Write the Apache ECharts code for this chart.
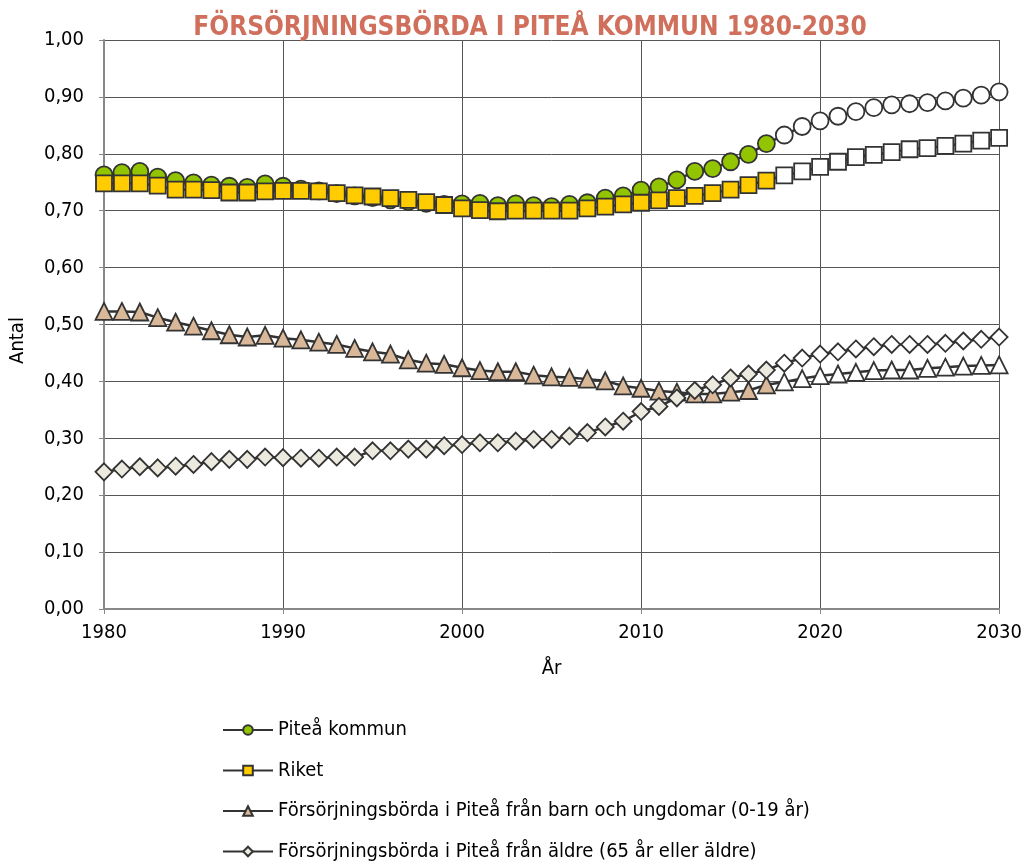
<!DOCTYPE html>
<html>
<head>
<meta charset="utf-8">
<script src="https://cdn.jsdelivr.net/npm/echarts@6/dist/echarts.min.js"></script>
<style>
  html, body { margin: 0; padding: 0; background: #fff; }
  #chart { width: 1025px; height: 861px; }
</style>
</head>
<body>
<div id="chart"></div>
<script>
// years 1980-2030, from 2018 on the values are a projection (white markers)
const years = [];
for (let y = 1980; y <= 2030; y++) years.push(y);
const firstProjectionYear = 2018;

const pitea = [
  0.763, 0.767, 0.769, 0.759, 0.753, 0.749, 0.745, 0.743, 0.741, 0.747,
  0.743, 0.738, 0.735, 0.730, 0.726, 0.723, 0.719, 0.716, 0.713, 0.711,
  0.712, 0.713, 0.709, 0.712, 0.709, 0.707, 0.711, 0.714, 0.722, 0.726,
  0.736, 0.742, 0.754, 0.769, 0.774, 0.786, 0.799, 0.818, 0.833, 0.848,
  0.858, 0.866, 0.874, 0.881, 0.886, 0.888, 0.890, 0.893, 0.898, 0.903, 0.909
];
const riket = [
  0.748, 0.748, 0.748, 0.744, 0.737, 0.737, 0.736, 0.732, 0.732, 0.734,
  0.735, 0.735, 0.734, 0.731, 0.727, 0.725, 0.722, 0.719, 0.715, 0.710,
  0.704, 0.701, 0.699, 0.700, 0.700, 0.700, 0.700, 0.704, 0.707, 0.711,
  0.714, 0.718, 0.722, 0.726, 0.731, 0.737, 0.745, 0.753, 0.762, 0.769,
  0.777, 0.786, 0.794, 0.798, 0.803, 0.808, 0.810, 0.814, 0.818, 0.823, 0.828
];
const barn = [
  0.523, 0.523, 0.522, 0.512, 0.504, 0.497, 0.489, 0.482, 0.478, 0.481,
  0.476, 0.473, 0.469, 0.465, 0.458, 0.452, 0.448, 0.438, 0.432, 0.430,
  0.424, 0.419, 0.417, 0.417, 0.411, 0.408, 0.407, 0.404, 0.401, 0.392,
  0.388, 0.383, 0.381, 0.378, 0.378, 0.381, 0.384, 0.394, 0.399, 0.405,
  0.410, 0.413, 0.416, 0.419, 0.420, 0.420, 0.423, 0.425, 0.427, 0.428, 0.429
];
const aldre = [
  0.241, 0.246, 0.250, 0.248, 0.251, 0.254, 0.259, 0.263, 0.263, 0.267,
  0.266, 0.265, 0.265, 0.267, 0.267, 0.278, 0.278, 0.281, 0.281, 0.287,
  0.289, 0.292, 0.292, 0.295, 0.298, 0.298, 0.304, 0.310, 0.320, 0.330,
  0.347, 0.356, 0.371, 0.384, 0.394, 0.406, 0.413, 0.420, 0.432, 0.441,
  0.448, 0.452, 0.457, 0.461, 0.465, 0.465, 0.465, 0.467, 0.471, 0.474, 0.478
];

const FONT = "'DejaVu Sans Condensed', sans-serif";

const toData = (values) =>
  values.map((v, i) => {
    if (years[i] >= firstProjectionYear) {
      return { value: [years[i], v], itemStyle: { color: "#ffffff" } };
    }
    return [years[i], v];
  });

const makeSeries = (name, values, symbol, color, size) => ({
  name: name,
  type: "line",
  data: toData(values),
  symbol: symbol,
  symbolSize: size,
  lineStyle: { color: "#333333", width: 2.5 },
  itemStyle: { color: color, borderColor: "#333333", borderWidth: 1.8 },
  emphasis: { disabled: true },
});

const chart = echarts.init(document.getElementById("chart"));
chart.setOption({
  animation: false,
  title: {
    text: "FÖRSÖRJNINGSBÖRDA I PITEÅ KOMMUN 1980-2030",
    left: 525,
    textAlign: "center",
    top: 10,
    textStyle: {
      fontFamily: FONT,
      fontSize: 26,
      fontWeight: "bold",
      color: "#d0705c",
    },
  },
  grid: { left: 100, right: 25, top: 40, bottom: 252 },
  legend: {
    orient: "vertical",
    left: 222,
    top: 720,
    height: 160,
    padding: 0,
    itemWidth: 50,
    itemHeight: 12,
    itemGap: 20.5,
    textStyle: { fontFamily: FONT, fontSize: 20, lineHeight: 20, color: "#000" },
    data: [
      "Piteå kommun",
      "Riket",
      "Försörjningsbörda i Piteå från barn och ungdomar (0-19 år)",
      "Försörjningsbörda i Piteå från äldre (65 år eller äldre)",
    ],
  },
  xAxis: {
    type: "value",
    min: 1980,
    max: 2030,
    interval: 10,
    name: "År",
    nameLocation: "middle",
    nameGap: 50,
    nameTextStyle: { fontFamily: FONT, fontSize: 20, color: "#000" },
    axisLine: { lineStyle: { color: "#888888", width: 2 } },
    axisTick: { show: true, length: 5, lineStyle: { color: "#888888" } },
    axisLabel: {
      fontFamily: FONT,
      fontSize: 20,
      color: "#000",
      margin: 14,
      formatter: (v) => String(v),
    },
    splitLine: { show: true, lineStyle: { color: "#555555", width: 1 } },
  },
  yAxis: {
    type: "value",
    min: 0,
    max: 1,
    interval: 0.1,
    name: "Antal",
    nameLocation: "middle",
    nameGap: 76,
    nameTextStyle: { fontFamily: FONT, fontSize: 20, color: "#000", padding: [0, 32, 0, 0] },
    axisLine: { show: true, lineStyle: { color: "#888888", width: 2 } },
    axisTick: { show: true, length: 5, lineStyle: { color: "#888888" } },
    axisLabel: {
      fontFamily: FONT,
      fontSize: 20,
      color: "#000",
      margin: 20,
      formatter: (v) => v.toFixed(2).replace(".", ","),
    },
    splitLine: { show: true, lineStyle: { color: "#555555", width: 1 } },
  },
  series: [
    makeSeries("Piteå kommun", pitea, "circle", "#92c400", 17),
    makeSeries("Riket", riket, "rect", "#ffcc00", 16),
    makeSeries("Försörjningsbörda i Piteå från barn och ungdomar (0-19 år)", barn, "triangle", "#d8b898", 17),
    makeSeries("Försörjningsbörda i Piteå från äldre (65 år eller äldre)", aldre, "diamond", "#ece9de", 17),
  ],
});
</script>
</body>
</html>
